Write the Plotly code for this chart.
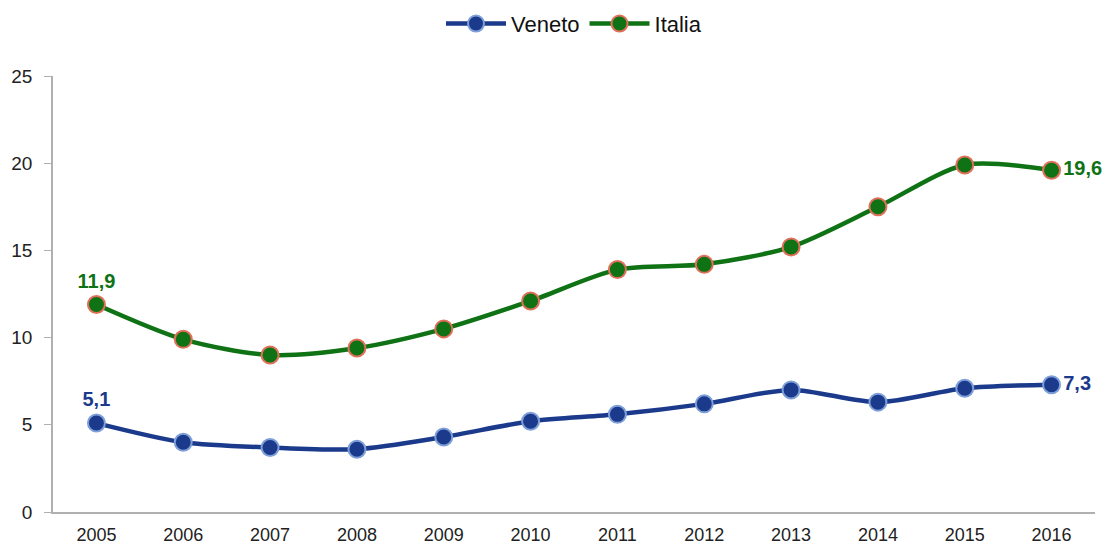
import plotly.graph_objects as go

years = ["2005", "2006", "2007", "2008", "2009", "2010", "2011", "2012", "2013", "2014", "2015", "2016"]
veneto = [5.1, 4.0, 3.7, 3.6, 4.3, 5.2, 5.6, 6.2, 7.0, 6.3, 7.1, 7.3]
italia = [11.9, 9.9, 9.0, 9.4, 10.5, 12.1, 13.9, 14.2, 15.2, 17.5, 19.9, 19.6]

def fmt(v):
    return f"{v:.1f}".replace(".", ",")

def labels(vals):
    return [fmt(v) if i in (0, len(vals) - 1) else "" for i, v in enumerate(vals)]

def positions(n):
    return ["top center" if i == 0 else ("middle right" if i == n - 1 else "top center") for i in range(n)]

x = list(range(len(years)))
blue = "#1b3a8c"
green = "#0f7214"

fig = go.Figure()
fig.add_trace(go.Scatter(
    x=x, y=veneto, name="Veneto", mode="lines+markers+text",
    line=dict(color=blue, width=4.5, shape="spline", smoothing=0.8),
    marker=dict(size=17, color=blue, line=dict(color="#7f9fd8", width=2)),
    text=labels(veneto), textposition=positions(len(veneto)),
    textfont=dict(family="Liberation Sans, Arial", size=20, color=blue, weight="bold"),
    cliponaxis=False,
))
fig.add_trace(go.Scatter(
    x=x, y=italia, name="Italia", mode="lines+markers+text",
    line=dict(color=green, width=4.5, shape="spline", smoothing=0.8),
    marker=dict(size=17, color=green, line=dict(color="#e0705a", width=2)),
    text=labels(italia), textposition=positions(len(italia)),
    textfont=dict(family="Liberation Sans, Arial", size=20, color=green, weight="bold"),
    cliponaxis=False,
))

fig.update_layout(
    width=1117, height=545,
    margin=dict(l=53, r=22, t=76, b=33, autoexpand=False),
    paper_bgcolor="white", plot_bgcolor="white",
    font=dict(family="Liberation Sans, Arial", size=18, color="#222"),
    showlegend=True,
    legend=dict(orientation="h", x=0.5, xanchor="center", y=0.995, yref="container", yanchor="top",
                font=dict(size=22, color="#111"), itemwidth=60),
    xaxis=dict(
        tickmode="array", tickvals=x, ticktext=years, range=[-0.5, len(years) - 0.5],
        showgrid=False, zeroline=False, showline=True, linecolor="#b0b0b0", linewidth=1.5,
        ticks="", tickfont=dict(size=18, color="#222"), automargin=False, ticklabelstandoff=6,
    ),
    yaxis=dict(
        range=[0, 25], tickvals=[0, 5, 10, 15, 20, 25],
        showgrid=False, zeroline=False, showline=True, linecolor="#b0b0b0", linewidth=1.5,
        ticks="outside", ticklen=7, tickcolor="#b0b0b0", tickfont=dict(size=19, color="#222"),
        automargin=False, ticklabelstandoff=8,
    ),
)

fig.write_html("out.html", config={"displayModeBar": False},
               post_script="document.body.style.margin='0';document.body.style.overflow='hidden';")
